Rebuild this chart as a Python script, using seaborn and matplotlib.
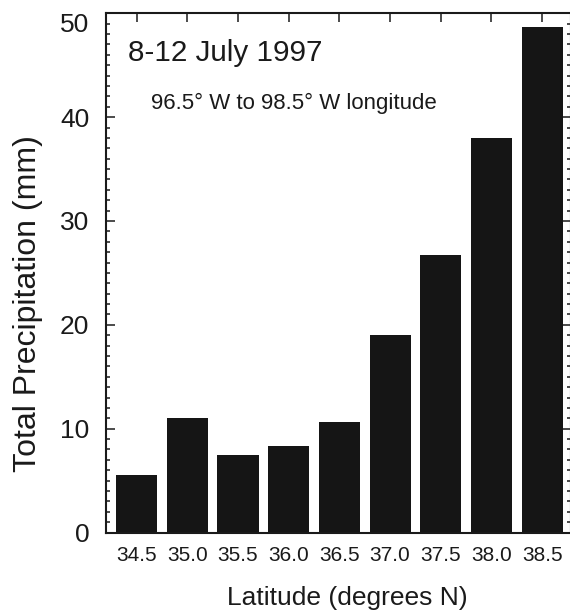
import matplotlib
matplotlib.use("Agg")
import matplotlib.pyplot as plt
import seaborn as sns
import pandas as pd
from matplotlib.ticker import MultipleLocator

# Total precipitation per latitude band, 8-12 July 1997
latitudes = ["34.5", "35.0", "35.5", "36.0", "36.5", "37.0", "37.5", "38.0", "38.5"]
precip_mm = [5.5, 11.0, 7.5, 8.3, 10.6, 19.0, 26.7, 38.0, 48.7]
y_ticks = [0, 10, 20, 30, 40, 50]

sns.set_theme(style="ticks")
plt.rcParams["font.family"] = ["Liberation Sans", "DejaVu Sans"]
plt.rcParams["text.color"] = "#1a1a1a"
plt.rcParams["axes.labelcolor"] = "#1a1a1a"
plt.rcParams["xtick.color"] = "#1a1a1a"
plt.rcParams["ytick.color"] = "#1a1a1a"

fig = plt.figure(figsize=(5.70, 6.13), dpi=100)
ax = fig.add_axes([0.186, 0.1313, 0.815, 0.847])

df = pd.DataFrame({"lat": latitudes, "precip": precip_mm})
sns.barplot(data=df, x="lat", y="precip", color="#151515", saturation=1,
            width=0.81, linewidth=0, edgecolor="none", ax=ax)

ax.set_xlim(-0.603, 8.56)
ax.set_ylim(0, 50)
ax.set_yticks(y_ticks)
ax.yaxis.set_minor_locator(MultipleLocator(1))

for side in ["left", "right", "top", "bottom"]:
    ax.spines[side].set_visible(True)
    ax.spines[side].set_linewidth(1.5)
    ax.spines[side].set_color("#1a1a1a")

ax.tick_params(axis="both", which="both", direction="in", top=True, right=True,
               labeltop=False, labelright=False, width=1.1)
ax.tick_params(axis="both", which="major", length=6.5)
ax.tick_params(axis="y", which="minor", length=3.2)
ax.tick_params(axis="x", which="major", labelsize=15, pad=10)
ax.tick_params(axis="y", which="major", labelsize=19, pad=12)

# the top label sits below its tick so it stays inside the frame
ax.get_yticklabels()[-1].set_verticalalignment("top")

ax.set_xlabel("Latitude (degrees N)", fontsize=19, va="center")
ax.set_ylabel("Total Precipitation (mm)", fontsize=23, va="center")
ax.xaxis.set_label_coords(0.520, -0.127)
ax.yaxis.set_label_coords(-0.168, 0.440)

ax.text(0.0475, 0.909, "8-12 July 1997", transform=ax.transAxes,
        fontsize=21.3, ha="left", va="baseline")
ax.text(0.0965, 0.816, "96.5\u00b0 W to 98.5\u00b0 W longitude", transform=ax.transAxes,
        fontsize=16, ha="left", va="baseline")

fig.savefig("out.png", dpi=100)
